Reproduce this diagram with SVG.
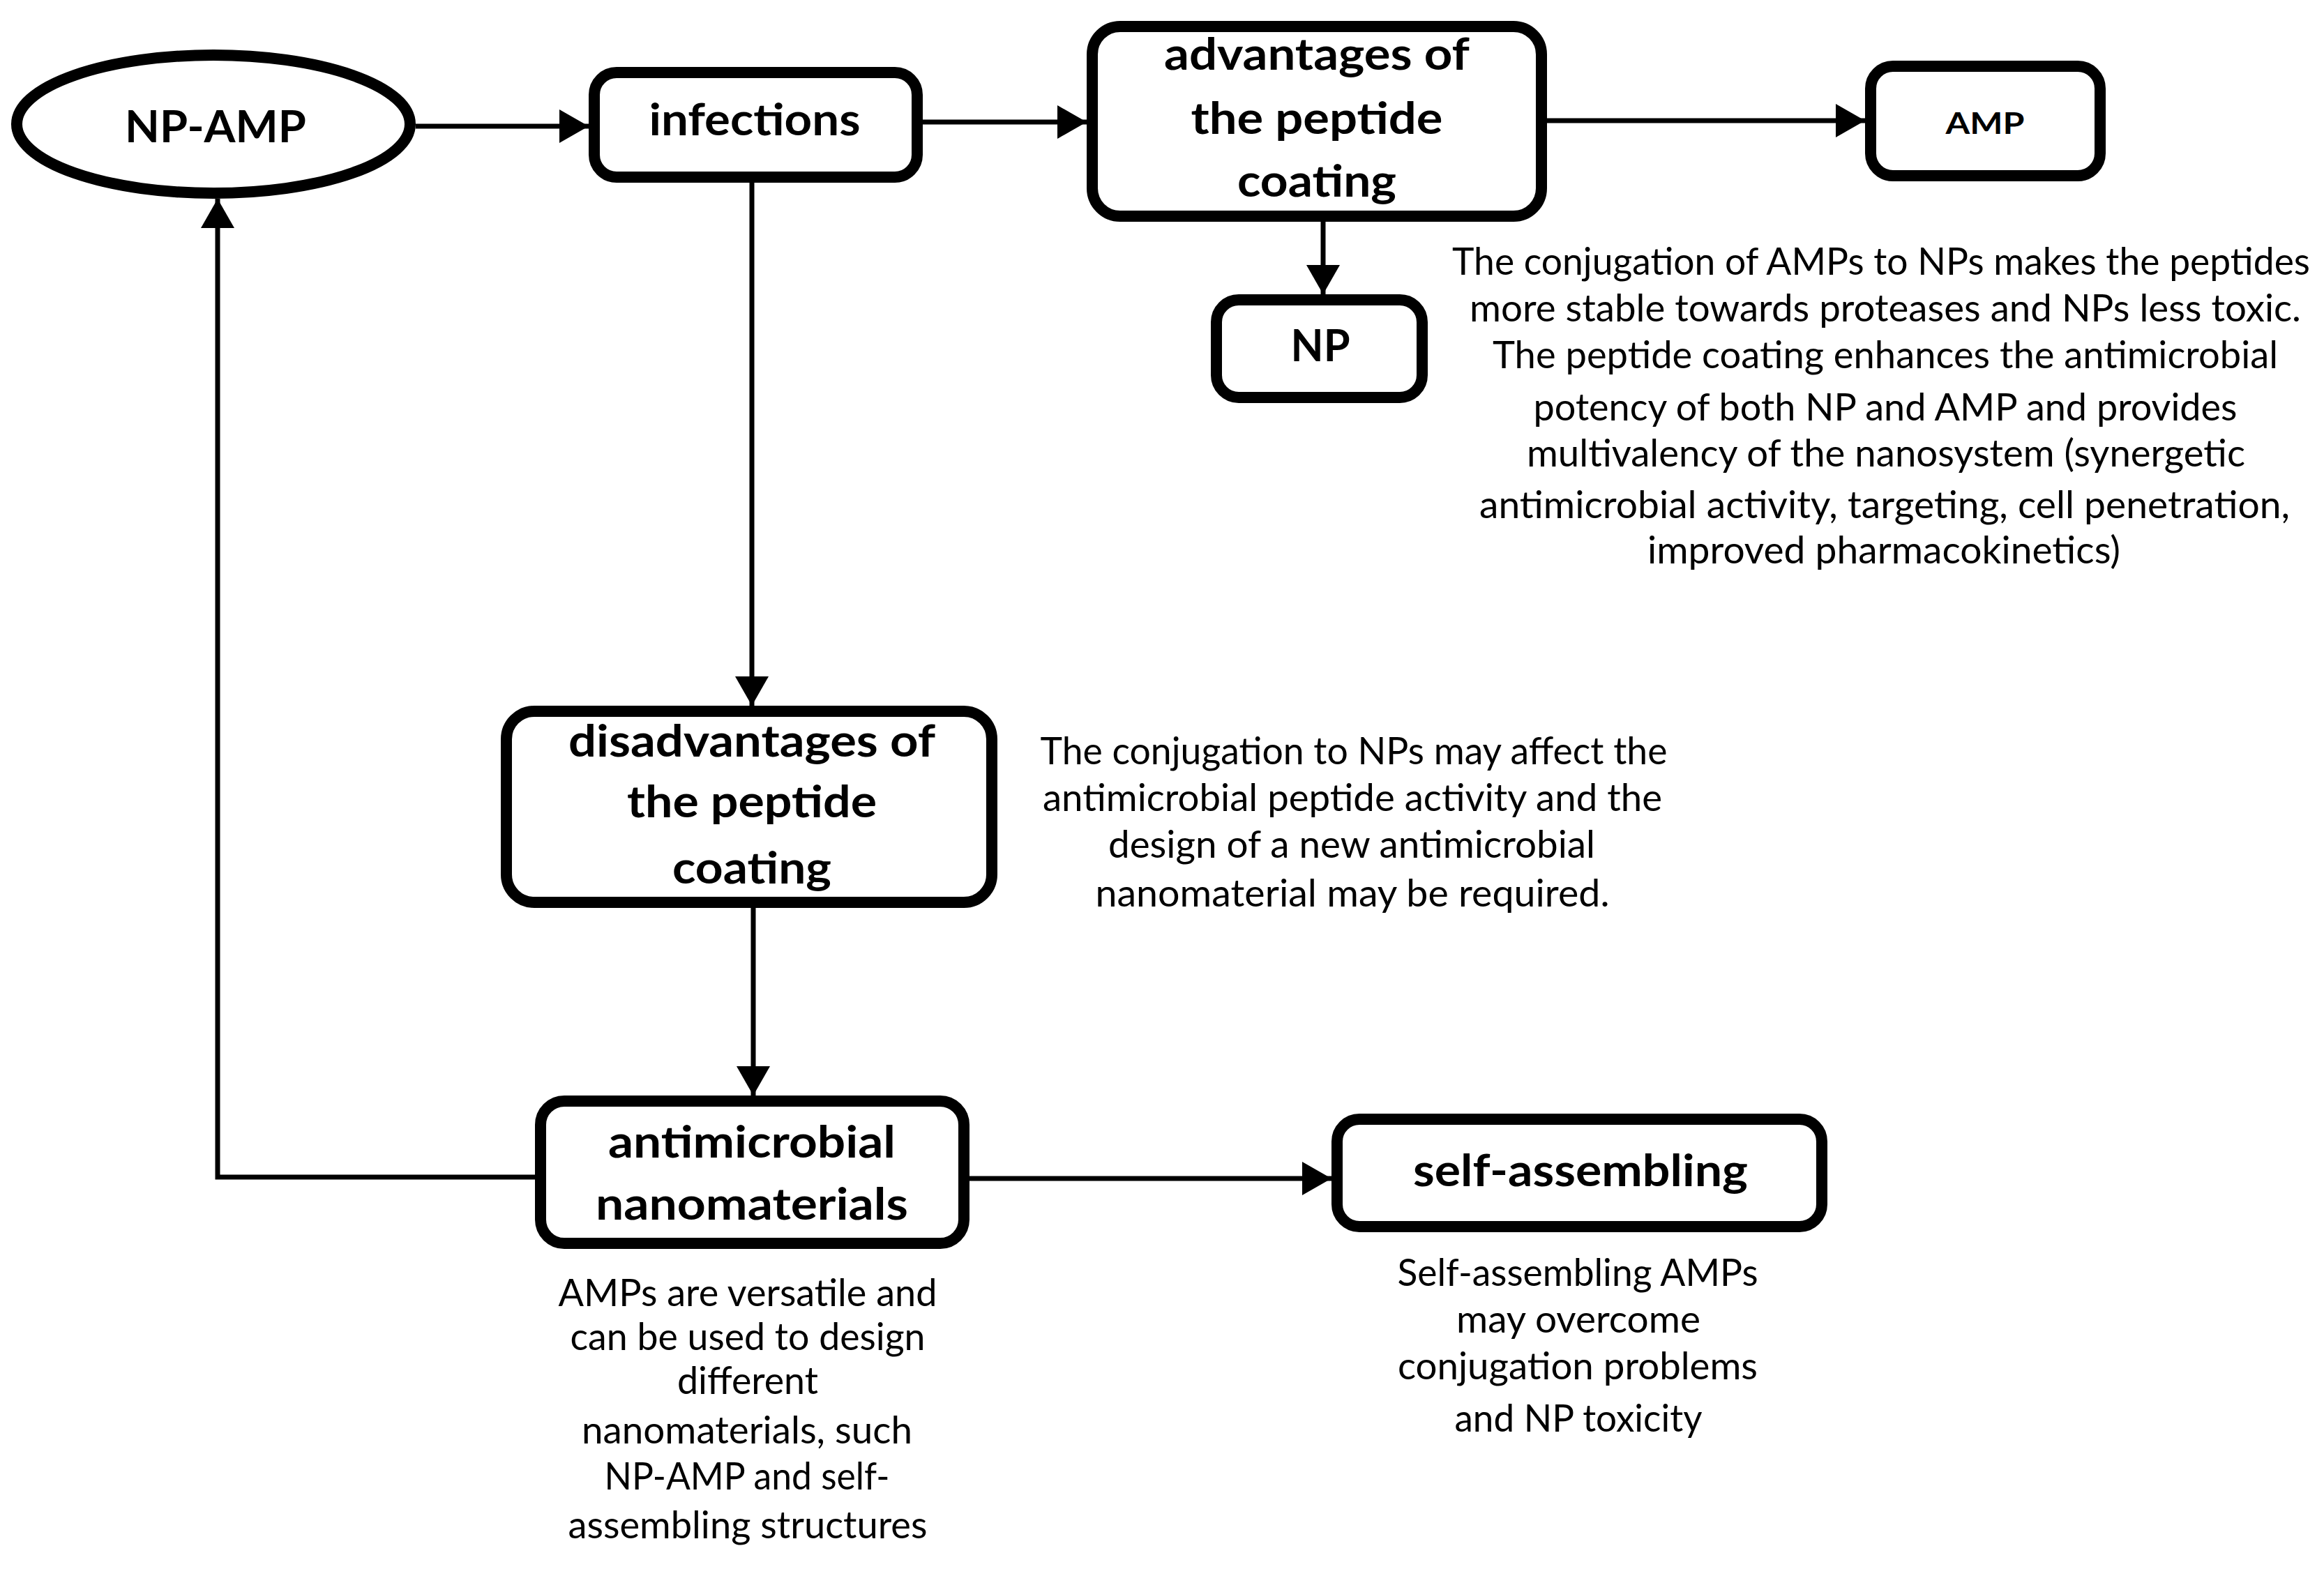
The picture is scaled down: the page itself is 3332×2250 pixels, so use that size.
<svg xmlns="http://www.w3.org/2000/svg" width="3332" height="2250" viewBox="0 0 3332 2250">
<style>
.node{fill:#fff;stroke:#000;stroke-width:16}
.lbl{font-family:Lato,"Open Sans","Liberation Sans",sans-serif;font-weight:bold;font-size:64px;fill:#000;text-anchor:middle}
.note{font-family:Lato,"Open Sans","Liberation Sans",sans-serif;font-size:55px;fill:#000;text-anchor:middle}
.edge{fill:none;stroke:#000;stroke-width:7;marker-end:url(#ah)}
</style>
<defs>
<marker id="ah" markerUnits="userSpaceOnUse" markerWidth="44" markerHeight="50" refX="42" refY="24" orient="auto" viewBox="0 0 44 50">
<path d="M0,0 L42,24 L0,48 z" fill="#000"/>
</marker>
</defs>
<rect width="3332" height="2250" fill="#fff"/>
<g id="connectors">
<path class="edge" d="M596,181 L844,181"/>
<path class="edge" d="M1323,175 L1558,175"/>
<path class="edge" d="M2218,173 L2674,173"/>
<path class="edge" d="M1897,318 L1897,422"/>
<path class="edge" d="M1078,262 L1078,1012"/>
<path class="edge" d="M1080,1302 L1080,1571"/>
<path class="edge" d="M767,1688 L312,1688 L312,285"/>
<path class="edge" d="M1390,1690 L1909,1690"/>
</g>
<g id="np-amp">
<ellipse class="node" cx="306" cy="178" rx="282" ry="99"/>
<text class="lbl" x="309" y="204" textLength="260" lengthAdjust="spacingAndGlyphs">NP-AMP</text>
</g>
<g id="infections">
<rect class="node" x="852" y="104" width="463" height="150" rx="32"/>
<text class="lbl" x="1082" y="194" textLength="303" lengthAdjust="spacingAndGlyphs">infections</text>
</g>
<g id="advantages">
<rect class="node" x="1566" y="38" width="644" height="272" rx="40"/>
<text class="lbl" x="1888" y="100" textLength="438" lengthAdjust="spacingAndGlyphs">advantages of</text>
<text class="lbl" x="1888" y="192" textLength="361" lengthAdjust="spacingAndGlyphs">the peptide</text>
<text class="lbl" x="1888" y="282" textLength="228" lengthAdjust="spacingAndGlyphs">coating</text>
</g>
<g id="amp">
<rect class="node" x="2682" y="95" width="329" height="157" rx="32"/>
<text class="lbl" x="2846" y="192" style="font-size:42px" textLength="113" lengthAdjust="spacingAndGlyphs">AMP</text>
</g>
<g id="np">
<rect class="node" x="1744" y="430" width="295" height="140" rx="32"/>
<text class="lbl" x="1893" y="518" textLength="85" lengthAdjust="spacingAndGlyphs">NP</text>
</g>
<g id="advantages-note">
<text class="note" x="2697" y="394" textLength="1230" lengthAdjust="spacingAndGlyphs">The conjugation of AMPs to NPs makes the peptides</text>
<text class="note" x="2703" y="461" textLength="1192" lengthAdjust="spacingAndGlyphs">more stable towards proteases and NPs less toxic.</text>
<text class="note" x="2703" y="528" textLength="1126" lengthAdjust="spacingAndGlyphs">The peptide coating enhances the antimicrobial</text>
<text class="note" x="2703" y="603" textLength="1009" lengthAdjust="spacingAndGlyphs">potency of both NP and AMP and provides</text>
<text class="note" x="2704" y="669" textLength="1030" lengthAdjust="spacingAndGlyphs">multivalency of the nanosystem (synergetic</text>
<text class="note" x="2702" y="743" textLength="1162" lengthAdjust="spacingAndGlyphs">antimicrobial activity, targeting, cell penetration,</text>
<text class="note" x="2701" y="808" textLength="678" lengthAdjust="spacingAndGlyphs">improved pharmacokinetics)</text>
</g>
<g id="disadvantages">
<rect class="node" x="726" y="1020" width="696" height="274" rx="40"/>
<text class="lbl" x="1078" y="1085" textLength="526" lengthAdjust="spacingAndGlyphs">disadvantages of</text>
<text class="lbl" x="1078" y="1172" textLength="358" lengthAdjust="spacingAndGlyphs">the peptide</text>
<text class="lbl" x="1078" y="1267" textLength="228" lengthAdjust="spacingAndGlyphs">coating</text>
</g>
<g id="disadvantages-note">
<text class="note" x="1941" y="1096" textLength="899" lengthAdjust="spacingAndGlyphs">The conjugation to NPs may affect the</text>
<text class="note" x="1939" y="1163" textLength="888" lengthAdjust="spacingAndGlyphs">antimicrobial peptide activity and the</text>
<text class="note" x="1938" y="1230" textLength="698" lengthAdjust="spacingAndGlyphs">design of a new antimicrobial</text>
<text class="note" x="1939" y="1300" textLength="737" lengthAdjust="spacingAndGlyphs">nanomaterial may be required.</text>
</g>
<g id="antimicrobial-nanomaterials">
<rect class="node" x="775" y="1579" width="607" height="204" rx="34"/>
<text class="lbl" x="1078" y="1660" textLength="412" lengthAdjust="spacingAndGlyphs">antimicrobial</text>
<text class="lbl" x="1078" y="1749" textLength="448" lengthAdjust="spacingAndGlyphs">nanomaterials</text>
</g>
<g id="antimicrobial-note">
<text class="note" x="1072" y="1873" textLength="543" lengthAdjust="spacingAndGlyphs">AMPs are versatile and</text>
<text class="note" x="1072" y="1936" textLength="509" lengthAdjust="spacingAndGlyphs">can be used to design</text>
<text class="note" x="1072" y="1999" textLength="202" lengthAdjust="spacingAndGlyphs">different</text>
<text class="note" x="1071" y="2070" textLength="474" lengthAdjust="spacingAndGlyphs">nanomaterials, such</text>
<text class="note" x="1071" y="2136" textLength="409" lengthAdjust="spacingAndGlyphs">NP-AMP and self-</text>
<text class="note" x="1072" y="2206" textLength="515" lengthAdjust="spacingAndGlyphs">assembling structures</text>
</g>
<g id="self-assembling">
<rect class="node" x="1917" y="1605" width="695" height="154" rx="32"/>
<text class="lbl" x="2266" y="1701" textLength="480" lengthAdjust="spacingAndGlyphs">self-assembling</text>
</g>
<g id="self-assembling-note">
<text class="note" x="2262" y="1844" textLength="517" lengthAdjust="spacingAndGlyphs">Self-assembling AMPs</text>
<text class="note" x="2263" y="1911" textLength="350" lengthAdjust="spacingAndGlyphs">may overcome</text>
<text class="note" x="2262" y="1978" textLength="516" lengthAdjust="spacingAndGlyphs">conjugation problems</text>
<text class="note" x="2263" y="2053" textLength="355" lengthAdjust="spacingAndGlyphs">and NP toxicity</text>
</g>
</svg>
